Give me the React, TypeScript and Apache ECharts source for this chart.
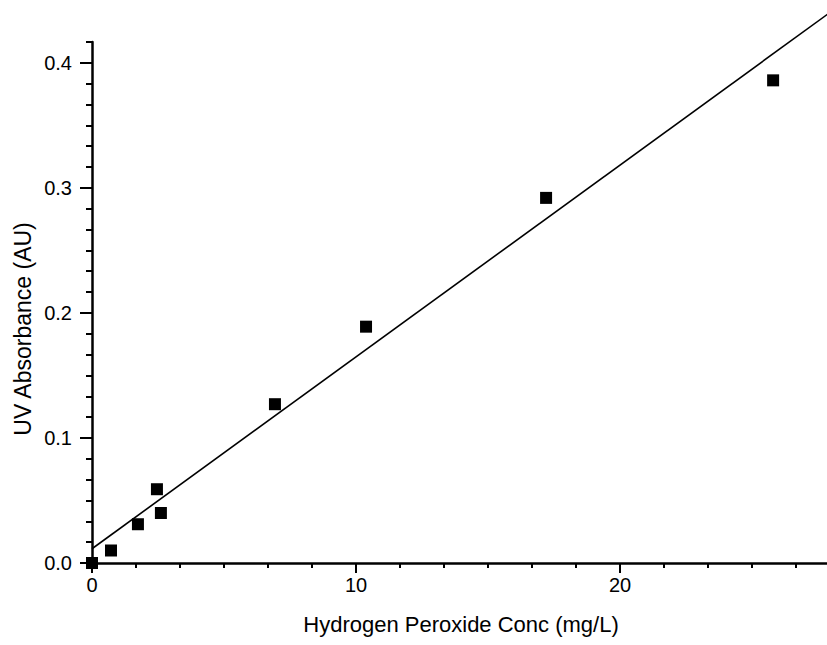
import React, { useEffect, useRef } from "react";
import * as echarts from "echarts";

const concX = [0, 0.72, 1.74, 2.46, 2.61, 6.93, 10.38, 17.2, 25.8];
const absY = [0, 0.01, 0.031, 0.059, 0.04, 0.127, 0.189, 0.292, 0.386];
const fitX = [0, 28];
const fitY = [0.0114, 0.441];
const xTickValues = [0, 10, 20];
const yTickValues = [0, 0.1, 0.2, 0.3, 0.4];
const xTitle = "Hydrogen Peroxide Conc (mg/L)";
const yTitle = "UV Absorbance (AU)";

const FONT = "'Liberation Sans', Arial, Helvetica, sans-serif";

export default function App() {
  const ref = useRef<HTMLDivElement>(null);
  useEffect(() => {
    if (!ref.current) return;
    const chart = echarts.init(ref.current, undefined, { renderer: "svg" });
    const yMax = 25 / 60;
    const option: any = {
      animation: false,
      backgroundColor: "#ffffff",
      grid: {
        left: 92,
        top: 42,
        width: 792,
        height: 521,
        containLabel: false,
        outerBoundsMode: "none",
      },
      xAxis: {
        type: "value",
        min: 0,
        max: 30,
        interval: 10,
        axisLine: { show: true, onZero: false, lineStyle: { color: "#000", width: 2.5 } },
        axisTick: { show: true, length: 10, lineStyle: { color: "#000", width: 2 } },
        minorTick: { show: true, splitNumber: 6, length: 5, lineStyle: { color: "#000", width: 2 } },
        axisLabel: {
          color: "#000",
          fontFamily: FONT,
          fontSize: 20,
          margin: 12,
          customValues: xTickValues,
        },
        splitLine: { show: false },
        minorSplitLine: { show: false },
      },
      yAxis: [
        {
          type: "value",
          min: 0,
          max: yMax,
          interval: 1 / 60,
          axisLine: { show: true, onZero: false, lineStyle: { color: "#000", width: 2.5 } },
          axisTick: { show: true, length: 6, lineStyle: { color: "#000", width: 2 } },
          axisLabel: { show: false },
          splitLine: { show: false },
        },
        {
          type: "value",
          min: 0,
          max: yMax,
          position: "left",
          axisLine: { show: false },
          axisTick: { show: true, length: 12, lineStyle: { color: "#000", width: 2 }, customValues: yTickValues },
          axisLabel: {
            color: "#000",
            fontFamily: FONT,
            fontSize: 20,
            margin: 20,
            customValues: yTickValues,
            formatter: (v: number) => v.toFixed(1),
          },
          splitLine: { show: false },
        },
      ],
      graphic: [
        {
          type: "text",
          x: 461,
          y: 624,
          style: {
            text: xTitle,
            fill: "#000",
            font: `22px ${FONT}`,
            textAlign: "center",
            textVerticalAlign: "middle",
          },
        },
        {
          type: "text",
          x: 23,
          y: 329,
          rotation: Math.PI / 2,
          style: {
            text: yTitle,
            fill: "#000",
            font: `23px ${FONT}`,
            textAlign: "center",
            textVerticalAlign: "middle",
          },
        },
      ],
      series: [
        {
          type: "line",
          data: fitX.map((x, i) => [x, fitY[i]]),
          yAxisIndex: 0,
          symbol: "none",
          clip: false,
          lineStyle: { color: "#000", width: 1.6 },
          z: 2,
        },
        {
          type: "scatter",
          data: concX.map((x, i) => [x, absY[i]]),
          yAxisIndex: 0,
          symbol: "rect",
          symbolSize: 12,
          clip: false,
          itemStyle: { color: "#000", opacity: 1 },
          z: 3,
        },
      ],
    };
    chart.setOption(option);
    return () => chart.dispose();
  }, []);
  return (
    <div
      ref={ref}
      style={{ position: "fixed", left: 0, top: 0, width: 827, height: 645, background: "#fff" }}
    />
  );
}
